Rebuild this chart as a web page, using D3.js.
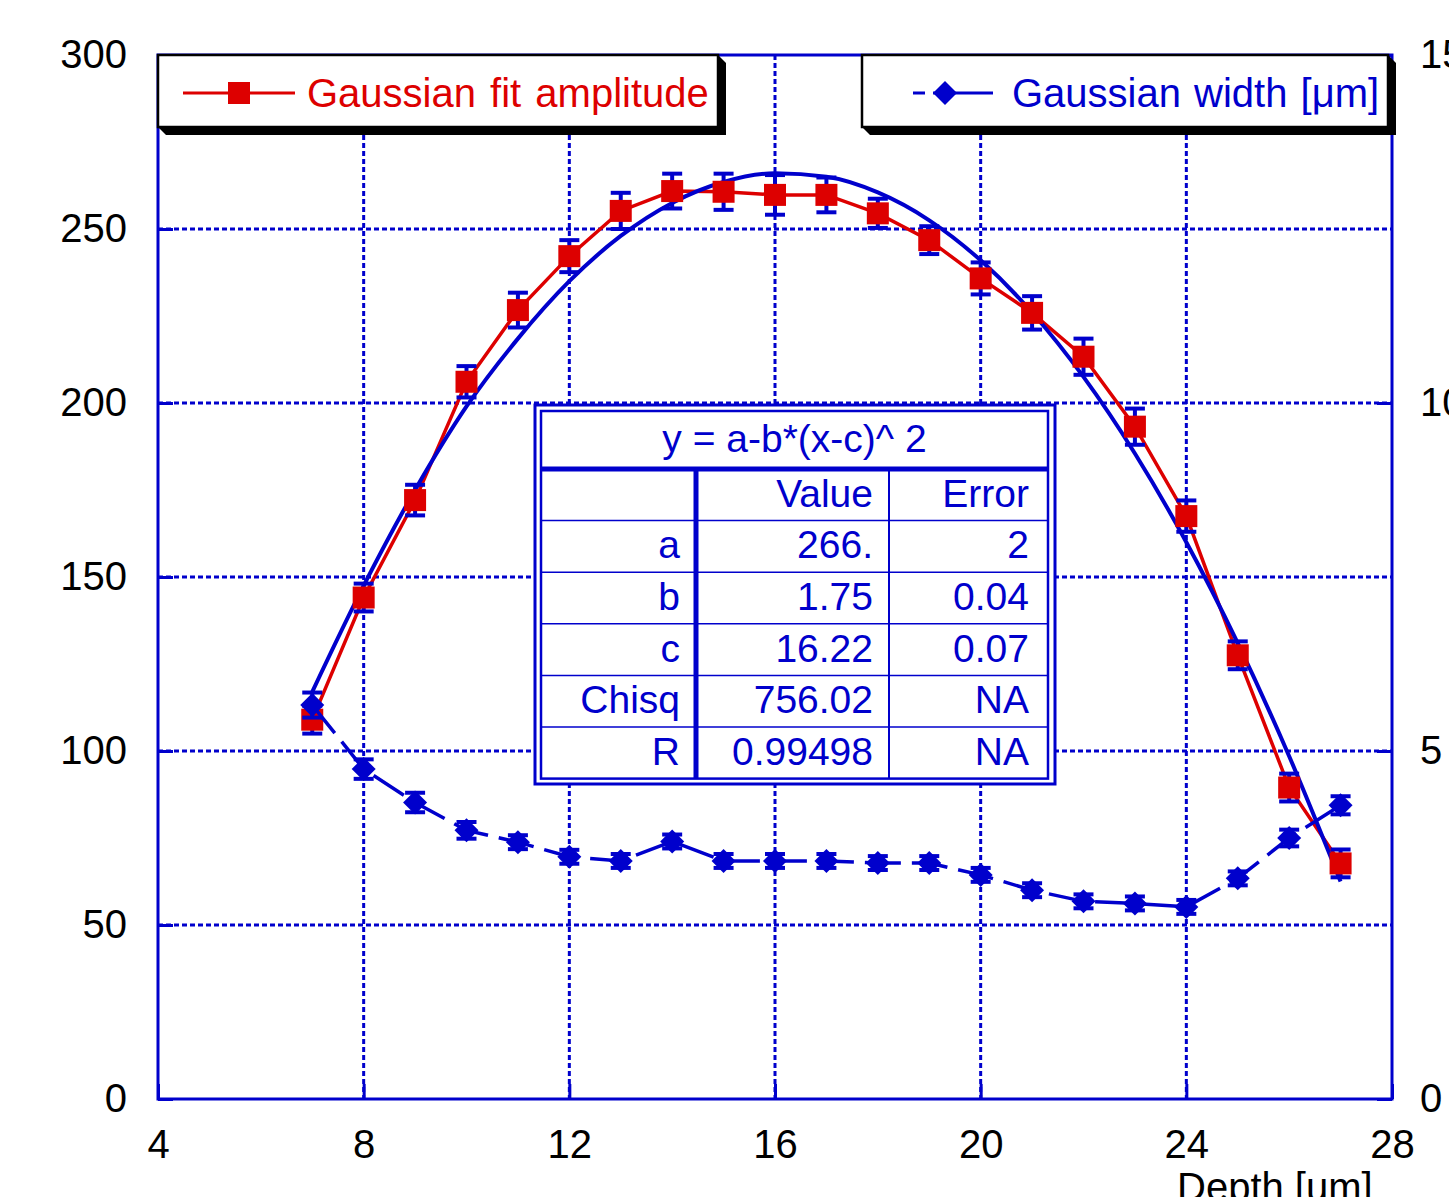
<!DOCTYPE html>
<html>
<head>
<meta charset="utf-8">
<script src="https://cdn.jsdelivr.net/npm/d3@7"></script>
<style>
body { margin: 0; background: #fff; }
svg text { font-family: "Liberation Sans", Arial, sans-serif; }
</style>
</head>
<body>
<svg id="chart" width="1449" height="1197"></svg>
<script>
// data
const depth = [7, 8, 9, 10, 11, 12, 13, 14, 15, 16, 17, 18, 19, 20, 21, 22, 23, 24, 25, 26, 27]
const amplitude = [109, 144.1, 172.1, 206.1, 226.7, 242.2, 255.2, 260.9, 260.7, 259.8, 259.8, 254.5, 246.8, 235.8, 225.9, 213.3, 193.2, 167.5, 127.5, 89.5, 67.7]
const amplitudeErr = [4, 4, 4.4, 4.5, 5, 4.6, 5.2, 5, 5.2, 5.7, 5, 4.2, 4, 4.6, 4.8, 5.2, 5.2, 4.5, 4, 4, 4]
const gaussWidth = [5.66, 4.74, 4.26, 3.86, 3.69, 3.48, 3.42, 3.70, 3.42, 3.42, 3.42, 3.39, 3.39, 3.22, 3.00, 2.84, 2.81, 2.76, 3.17, 3.75, 4.22]
const gaussWidthErr = [0.18, 0.14, 0.14, 0.12, 0.1, 0.1, 0.1, 0.1, 0.1, 0.1, 0.1, 0.1, 0.1, 0.1, 0.1, 0.1, 0.1, 0.1, 0.1, 0.12, 0.13]
const fitCurve = [117, 147.5, 175, 199, 218.5, 235, 248, 257.5, 263.5, 266, 265, 260.5, 252.5, 241, 226, 207.5, 185.5, 160, 131, 98.5, 62.5]

const xTicks = [4, 8, 12, 16, 20, 24, 28]
const yLeftTicks = [0, 50, 100, 150, 200, 250, 300]
const yRightTicks = [0, 5, 10, 15]

const fitTitle = 'y = a-b*(x-c)^ 2'
const fitHeader = ['', 'Value', 'Error']
const fitParam = ['a', 'b', 'c', 'Chisq', 'R']
const fitValue = ['266.', '1.75', '16.22', '756.02', '0.99498']
const fitError = ['2', '0.04', '0.07', 'NA', 'NA']

const legendAmp = 'Gaussian fit amplitude'
const legendWidth = 'Gaussian width [\u03bcm]'
const xLabel = 'Depth [um]'

// layout
const blue = '#0000cc', red = '#dd0000'
const plot = { left: 158, right: 1392, top: 55, bottom: 1099 }
const fs = 40

const svg = d3.select('#chart')

const x = d3.scaleLinear().domain([4, 28]).range([plot.left, plot.right])
const yL = d3.scaleLinear().domain([0, 300]).range([plot.bottom, plot.top])
const yR = d3.scaleLinear().domain([0, 15]).range([plot.bottom, plot.top])

// dotted grid
let grid = svg.append('g')
    .attr('stroke', blue)
    .attr('stroke-width', 3)
    .attr('stroke-dasharray', '5,3')
grid.selectAll('.gx').data(xTicks.slice(1, -1)).join('line')
    .attr('x1', d => x(d)).attr('x2', d => x(d))
    .attr('y1', plot.top).attr('y2', plot.bottom)
grid.selectAll('.gy').data(yLeftTicks.slice(1, -1)).join('line')
    .attr('x1', plot.left).attr('x2', plot.right)
    .attr('y1', d => yL(d)).attr('y2', d => yL(d))

// axes
function styleAxis(g) {
    g.select('.domain').remove()
    g.selectAll('line').attr('stroke', blue).attr('stroke-width', 3)
    g.selectAll('text').attr('fill', '#000').style('font-size', fs + 'px')
    g.attr('font-family', null).attr('font-size', null)
}
svg.append('g')
    .attr('transform', `translate(${plot.left},0)`)
    .call(d3.axisLeft(yL).tickValues(yLeftTicks).tickSize(-15).tickPadding(31))
    .call(styleAxis)
svg.append('g')
    .attr('transform', `translate(${plot.right},0)`)
    .call(d3.axisRight(yR).tickValues(yRightTicks).tickSize(-15).tickPadding(28))
    .call(styleAxis)
svg.append('g')
    .attr('transform', `translate(0,${plot.bottom})`)
    .call(d3.axisBottom(x).tickValues(xTicks).tickSize(-15).tickPadding(31))
    .call(styleAxis)

svg.append('text')
    .attr('x', 1177).attr('y', 1201)
    .style('font-size', fs + 'px')
    .text(xLabel)

// frame
svg.append('rect')
    .attr('x', plot.left).attr('y', plot.top)
    .attr('width', plot.right - plot.left).attr('height', plot.bottom - plot.top)
    .attr('fill', 'none').attr('stroke', blue).attr('stroke-width', 3)

// amplitude line
svg.append('path')
    .datum(depth)
    .attr('fill', 'none').attr('stroke', red).attr('stroke-width', 3.5)
    .attr('d', d3.line().x(d => x(d)).y((d, i) => yL(amplitude[i])))

// fit curve
svg.append('path')
    .datum(depth)
    .attr('fill', 'none').attr('stroke', blue).attr('stroke-width', 4)
    .attr('d', d3.line().curve(d3.curveMonotoneX).x(d => x(d)).y((d, i) => yL(fitCurve[i])))

// error bars helper
function errorBars(vals, errs, yScale) {
    let g = svg.append('g').attr('stroke', blue).attr('stroke-width', 4)
    let bars = g.selectAll('g').data(depth).join('g')
    bars.append('line')
        .attr('x1', d => x(d)).attr('x2', d => x(d))
        .attr('y1', (d, i) => yScale(vals[i] - errs[i]))
        .attr('y2', (d, i) => yScale(vals[i] + errs[i]))
    bars.append('line')
        .attr('x1', d => x(d) - 10).attr('x2', d => x(d) + 10)
        .attr('y1', (d, i) => yScale(vals[i] + errs[i]))
        .attr('y2', (d, i) => yScale(vals[i] + errs[i]))
    bars.append('line')
        .attr('x1', d => x(d) - 10).attr('x2', d => x(d) + 10)
        .attr('y1', (d, i) => yScale(vals[i] - errs[i]))
        .attr('y2', (d, i) => yScale(vals[i] - errs[i]))
}

errorBars(amplitude, amplitudeErr, yL)

// red squares
svg.append('g').selectAll('rect').data(depth).join('rect')
    .attr('x', d => x(d) - 11)
    .attr('y', (d, i) => yL(amplitude[i]) - 11)
    .attr('width', 22).attr('height', 22)
    .attr('fill', red)

// width series (right axis), dashed
svg.append('path')
    .datum(depth)
    .attr('fill', 'none').attr('stroke', blue).attr('stroke-width', 3.5)
    .attr('stroke-dasharray', '36,11')
    .attr('d', d3.line().x(d => x(d)).y((d, i) => yR(gaussWidth[i])))

errorBars(gaussWidth, gaussWidthErr, yR)

const diamond = 'M0,-12L12,0L0,12L-12,0Z'
svg.append('g').selectAll('path').data(depth).join('path')
    .attr('transform', (d, i) => `translate(${x(d)},${yR(gaussWidth[i])})`)
    .attr('d', diamond)
    .attr('fill', blue)

// legends
function legendBox(x0, y0, w, h) {
    let s = 8
    svg.append('polygon')
        .attr('points', [[x0, y0 + h], [x0 + w, y0 + h], [x0 + w, y0], [x0 + w + s, y0 + s],
            [x0 + w + s, y0 + h + s], [x0 + s, y0 + h + s]].map(p => p.join(',')).join(' '))
        .attr('fill', '#000')
    svg.append('rect')
        .attr('x', x0).attr('y', y0).attr('width', w).attr('height', h)
        .attr('fill', '#fff').attr('stroke', '#000').attr('stroke-width', 2.5)
}

legendBox(158, 55, 560, 72)
svg.append('line')
    .attr('x1', 183).attr('x2', 295).attr('y1', 93).attr('y2', 93)
    .attr('stroke', red).attr('stroke-width', 3)
svg.append('rect')
    .attr('x', 228).attr('y', 82).attr('width', 22).attr('height', 22)
    .attr('fill', red)
svg.append('text')
    .attr('x', 307).attr('y', 107)
    .attr('fill', red)
    .style('font-size', fs + 'px')
    .style('word-spacing', '3px')
    .text(legendAmp)

legendBox(862, 55, 526, 72)
svg.append('line')
    .attr('x1', 913).attr('x2', 993).attr('y1', 93).attr('y2', 93)
    .attr('stroke', blue).attr('stroke-width', 3)
    .attr('stroke-dasharray', '12,8,200')
svg.append('path')
    .attr('transform', 'translate(945,93)')
    .attr('d', diamond)
    .attr('fill', blue)
svg.append('text')
    .attr('x', 1012).attr('y', 107)
    .attr('fill', blue)
    .style('font-size', fs + 'px')
    .style('word-spacing', '2px')
    .text(legendWidth)

// fit results table
const tb = { left: 541, right: 1048, top: 411, titleBottom: 469, rowH: 51.6 }
const colX = [541, 696, 889, 1048]
const colRight = [680, 873, 1029]
let tbl = svg.append('g')
tbl.append('rect')
    .attr('x', 535).attr('y', 405).attr('width', 520).attr('height', 379)
    .attr('fill', '#fff').attr('stroke', blue).attr('stroke-width', 3)
tbl.append('rect')
    .attr('x', tb.left).attr('y', tb.top).attr('width', tb.right - tb.left)
    .attr('height', tb.titleBottom + tb.rowH * 6 - tb.top)
    .attr('fill', 'none').attr('stroke', blue).attr('stroke-width', 2.5)
tbl.append('line')
    .attr('x1', tb.left).attr('x2', tb.right)
    .attr('y1', tb.titleBottom).attr('y2', tb.titleBottom)
    .attr('stroke', blue).attr('stroke-width', 5)
tbl.selectAll('.row').data(d3.range(1, 6)).join('line')
    .attr('x1', tb.left).attr('x2', tb.right)
    .attr('y1', d => tb.titleBottom + d * tb.rowH)
    .attr('y2', d => tb.titleBottom + d * tb.rowH)
    .attr('stroke', blue).attr('stroke-width', 1.5)
tbl.append('line')
    .attr('x1', colX[1]).attr('x2', colX[1])
    .attr('y1', tb.titleBottom).attr('y2', tb.titleBottom + tb.rowH * 6)
    .attr('stroke', blue).attr('stroke-width', 5)
tbl.append('line')
    .attr('x1', colX[2]).attr('x2', colX[2])
    .attr('y1', tb.titleBottom).attr('y2', tb.titleBottom + tb.rowH * 6)
    .attr('stroke', blue).attr('stroke-width', 2)

tbl.append('text')
    .attr('x', (tb.left + tb.right) / 2).attr('y', 452)
    .attr('text-anchor', 'middle').attr('fill', blue)
    .style('font-size', '39px')
    .text(fitTitle)

let rows = [fitHeader].concat(fitParam.map((p, i) => [p, fitValue[i], fitError[i]]))
rows.forEach((r, ri) => {
    r.forEach((t, ci) => {
        tbl.append('text')
            .attr('x', colRight[ci])
            .attr('y', tb.titleBottom + ri * tb.rowH + tb.rowH / 2 + 12)
            .attr('text-anchor', 'end').attr('fill', blue)
            .style('font-size', '39px')
            .text(t)
    })
})
</script>
</body>
</html>
